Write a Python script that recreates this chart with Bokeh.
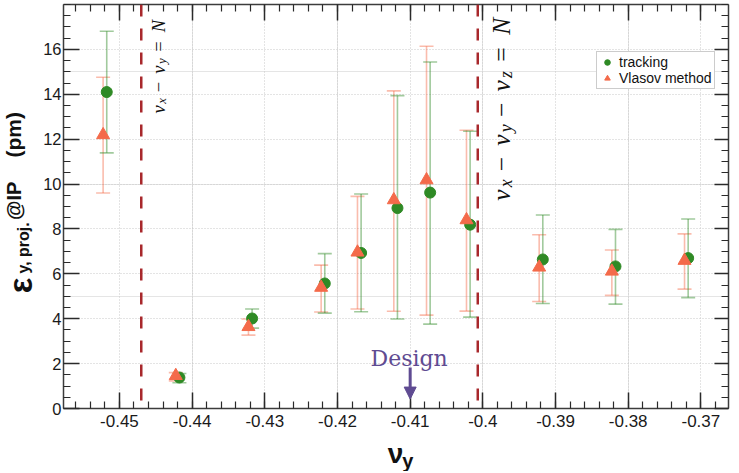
import math
import numpy as np
from bokeh.plotting import figure
from bokeh.layouts import row, column
from bokeh.models import (ColumnDataSource, Range1d, FixedTicker, LinearAxis, Span, Whisker,
                          TeeHead, Legend, LegendItem, Label, Arrow, NormalHead, Grid,
                          CustomJSTickFormatter, CustomLabelingPolicy)
from bokeh.transform import dodge
from bokeh.core.properties import value
from bokeh.embed import file_html
from bokeh.resources import INLINE

# ---------------- data ----------------
nu_y = [-0.452, -0.442, -0.432, -0.422, -0.417, -0.412, -0.4075, -0.402, -0.392, -0.382, -0.372]
tracking = [14.10, 1.38, 4.01, 5.57, 6.93, 8.93, 9.62, 8.19, 6.64, 6.33, 6.70]
tracking_lo = [11.39, 1.15, 3.58, 4.25, 4.31, 3.99, 3.76, 4.07, 4.68, 4.65, 4.94]
tracking_hi = [16.81, 1.56, 4.43, 6.90, 9.56, 13.94, 15.44, 12.35, 8.62, 7.98, 8.44]
vlasov = [12.19, 1.46, 3.64, 5.39, 6.96, 9.29, 10.18, 8.40, 6.29, 6.11, 6.59]
vlasov_lo = [9.60, 1.23, 3.27, 4.30, 4.43, 4.33, 4.16, 4.34, 4.77, 5.04, 5.32]
vlasov_hi = [14.76, 1.60, 3.99, 6.39, 9.45, 14.15, 16.14, 12.40, 7.74, 7.06, 7.78]

x_ticks = [-0.45, -0.44, -0.43, -0.42, -0.41, -0.40, -0.39, -0.38, -0.37]
x_tick_labels = ["-0.45", "-0.44", "-0.43", "-0.42", "-0.41", "-0.4", "-0.39", "-0.38", "-0.37"]
y_ticks = [0, 2, 4, 6, 8, 10, 12, 14, 16]
y_tick_labels = ["0", "2", "4", "6", "8", "10", "12", "14", "16"]

resonance_nu = [-0.447, -0.4007]
design_nu = -0.41
series_names = ["tracking", "Vlasov method"]

GREEN = "#2F8A25"
ORANGE = "#F46A4A"
PURPLE = "#5F4B92"
RES_RED = "#A8282C"
INK = "#111111"
MID = 0.33   # distance (in em) from the alphabetic baseline up to the "middle" anchor

x_minor = [round(v, 4) for v in np.arange(-0.456, -0.3659, 0.002)]
y_minor = [round(v, 2) for v in np.arange(0, 18.01, 0.5)]

TOTAL_W, TOTAL_H = 731, 471
YL_W = 40          # strip holding the y-axis title
MAIN_H = 436       # main figure height (frame bottom at 408)

p = figure(width=TOTAL_W - YL_W, height=MAIN_H, output_backend="svg", toolbar_location=None,
           x_range=Range1d(-0.4577, -0.3662), y_range=Range1d(0, 18),
           min_border_left=61 - YL_W, min_border_right=3, min_border_top=4, min_border_bottom=28,
           x_axis_location=None, y_axis_location=None)
p.outline_line_color = None
p.background_fill_color = "white"
p.border_fill_color = "white"

xt = FixedTicker(ticks=x_ticks, minor_ticks=x_minor)
yt = FixedTicker(ticks=y_ticks, minor_ticks=y_minor)
fmt_code = """
const i = tv.findIndex(t => Math.abs(t - tick) < 1e-9);
return i >= 0 ? tl[i] : '';
"""
xfmt = CustomJSTickFormatter(args=dict(tv=x_ticks, tl=x_tick_labels), code=fmt_code)
yfmt = CustomJSTickFormatter(args=dict(tv=y_ticks, tl=y_tick_labels), code=fmt_code)
no_labels = CustomLabelingPolicy(code="for (const i of indices) { indices.unset(i) }")

bottom_ax = LinearAxis(ticker=xt, formatter=xfmt)
left_ax = LinearAxis(ticker=yt, formatter=yfmt)
top_ax = LinearAxis(ticker=xt, formatter=xfmt)
right_ax = LinearAxis(ticker=yt, formatter=yfmt)
p.add_layout(bottom_ax, "below")
p.add_layout(left_ax, "left")
p.add_layout(top_ax, "above")
p.add_layout(right_ax, "right")

def style_axis(ax, show, tick_in):
    ax.major_tick_in = tick_in
    ax.major_tick_out = 0
    ax.minor_tick_in = 7
    ax.minor_tick_out = 0
    ax.axis_line_color = "#3c3c3c"
    ax.axis_line_width = 1.5
    ax.major_tick_line_color = "#2a2a2a"
    ax.major_tick_line_width = 1.5
    ax.minor_tick_line_color = "#2a2a2a"
    ax.minor_tick_line_width = 1.2
    ax.major_label_text_font = "Liberation Sans"
    ax.major_label_text_color = "#1a1a1a"
    ax.major_label_text_font_size = "17px"
    if not show:
        ax.major_label_policy = no_labels
        ax.major_label_text_font_size = "0px"
        ax.major_label_standoff = 0

style_axis(bottom_ax, True, 16)
style_axis(left_ax, True, 16)
style_axis(top_ax, False, 16)
style_axis(right_ax, False, 14)
bottom_ax.major_label_standoff = 6
left_ax.major_label_standoff = 2
left_ax.major_label_text_font_size = "16.5px"

for dim, tk in ((0, xt), (1, yt)):
    p.add_layout(Grid(dimension=dim, ticker=tk, grid_line_color="#c8c8c8",
                      grid_line_dash="1 2", grid_line_width=1))

# resonance lines
for loc in resonance_nu:
    p.add_layout(Span(location=loc, dimension="height", line_color=RES_RED,
                      line_width=2.5, line_dash="12 12"))

# error bars + markers
src_t = ColumnDataSource(dict(nu=nu_y, val=tracking, lo=tracking_lo, hi=tracking_hi))
src_v = ColumnDataSource(dict(nu=nu_y, val=vlasov, lo=vlasov_lo, hi=vlasov_hi))
DX = 0.00025

for src, col, sh in ((src_v, ORANGE, -DX), (src_t, GREEN, DX)):
    w = Whisker(source=src, base=dodge("nu", sh), upper="hi", lower="lo",
                dimension="height", line_color=col, line_alpha=0.45, line_width=1.6,
                upper_head=TeeHead(size=14, line_color=col, line_alpha=0.45, line_width=1.6),
                lower_head=TeeHead(size=14, line_color=col, line_alpha=0.45, line_width=1.6))
    w.level = "underlay"
    p.add_layout(w)

r_t = p.scatter(x=dodge("nu", DX), y="val", source=src_t, marker="circle", size=11,
                fill_color=GREEN, line_color=GREEN)
r_v = p.scatter(x=dodge("nu", -DX), y="val", source=src_v, marker="triangle", size=13,
                fill_color=ORANGE, line_color=ORANGE)

legend = Legend(items=[LegendItem(label=series_names[0], renderers=[r_t]),
                       LegendItem(label=series_names[1], renderers=[r_v])],
                location=(533, 319), padding=2, spacing=0, margin=0,
                glyph_width=16, glyph_height=14, label_height=14, label_width=90,
                label_standoff=4,
                label_text_font="Liberation Sans", label_text_font_size="14px",
                label_text_line_height=1.0, label_text_color=INK,
                border_line_color="#9a9a9a", border_line_width=1,
                background_fill_alpha=1.0)
p.add_layout(legend)

# rotated math labels for the resonances (alphabetic baseline offset from the line)
def math_label(fig, x, y, pieces, size, base_off):
    adv = 0.0
    for txt, kind, w in pieces:
        if txt:
            if kind == "sub":
                fs, dx, style = size * 0.7, base_off + size * 0.16, "italic"
            elif kind == "it":
                fs, dx, style = size, base_off, "italic"
            else:
                fs, dx, style = size, base_off, "normal"
            fig.text(x=[x], y=[y], text=[txt], angle=math.pi / 2,
                     x_offset=dx, y_offset=-adv * size,
                     text_font=value("Liberation Serif"), text_font_size=f"{fs:.1f}px",
                     text_font_style=style, text_align="left", text_baseline="alphabetic",
                     text_color=INK)
        adv += w

lab1 = [("ν", "it", 0.53), ("x", "sub", 0.40), ("", "sp", 0.22), ("−", "op", 0.78),
        ("", "sp", 0.22), ("ν", "it", 0.53), ("y", "sub", 0.38), ("", "sp", 0.28),
        ("=", "op", 0.78), ("", "sp", 0.28), ("N", "it", 0.8)]
lab2 = [("ν", "it", 0.53), ("x", "sub", 0.40), ("", "sp", 0.22), ("−", "op", 0.78),
        ("", "sp", 0.22), ("ν", "it", 0.53), ("y", "sub", 0.38), ("", "sp", 0.22),
        ("−", "op", 0.78), ("", "sp", 0.22), ("ν", "it", 0.53), ("z", "sub", 0.36),
        ("", "sp", 0.28), ("=", "op", 0.78), ("", "sp", 0.28), ("N", "it", 0.8)]
math_label(p, resonance_nu[0], 13.14, lab1, 18.5, 17.5)
math_label(p, resonance_nu[1], 9.26, lab2, 25.5, 24)

# Design marker
p.add_layout(Arrow(end=NormalHead(size=12, fill_color=PURPLE, line_color=PURPLE, line_width=1),
                   x_start=design_nu, y_start=1.83, x_end=design_nu, y_end=0.42,
                   line_color=PURPLE, line_width=3))
p.add_layout(Label(x=design_nu, y=2.24, x_offset=-1, text="Design", text_align="center",
                   text_baseline="middle", text_font="DejaVu Serif",
                   text_font_size="22px", text_color=PURPLE))

# ---------- strips carrying the axis titles (pixel coordinates) ----------
def strip(w, h):
    f = figure(width=w, height=h, output_backend="svg", toolbar_location=None,
               x_range=Range1d(0, w), y_range=Range1d(0, h), min_border=0,
               x_axis_location=None, y_axis_location=None)
    f.outline_line_color = None
    f.xgrid.visible = False
    f.ygrid.visible = False
    f.background_fill_color = "white"
    f.border_fill_color = "white"
    return f

def ttext(fig, x, y, txt, size, angle=0.0, align="left", baseline="middle"):
    fig.text(x=[x], y=[y], text=[txt], angle=angle, text_align=align,
             text_baseline=baseline, text_font=value("Liberation Sans"),
             text_font_style="bold", text_font_size=f"{size}px", text_color=INK)

# y title: rotated, reading upwards; x = baseline position minus MID em
yfig = strip(YL_W, TOTAL_H)
def cy(canvas_y):
    return TOTAL_H - canvas_y
ttext(yfig, 19.5, cy(285), "ε", 33, math.pi / 2, "center")
ttext(yfig, 28.5 - MID * 16, cy(273), "y, proj.", 16, math.pi / 2)
ttext(yfig, 20 - MID * 20, cy(219.5), "@IP", 20, math.pi / 2)
ttext(yfig, 20 - MID * 21, cy(157), "(pm)", 21, math.pi / 2)

# x title (alphabetic baselines)
XH = TOTAL_H - MAIN_H
xfig = strip(TOTAL_W - YL_W, XH)
def bx(canvas_x):
    return canvas_x - YL_W
def by(canvas_y):
    return TOTAL_H - canvas_y
ttext(xfig, bx(377), by(453), "ν", 28, baseline="alphabetic")
ttext(xfig, bx(392), by(460), "y", 20, baseline="alphabetic")

layout = row(yfig, column(p, xfig, spacing=0), spacing=0)
open("out.html", "w").write(file_html(layout, INLINE))
